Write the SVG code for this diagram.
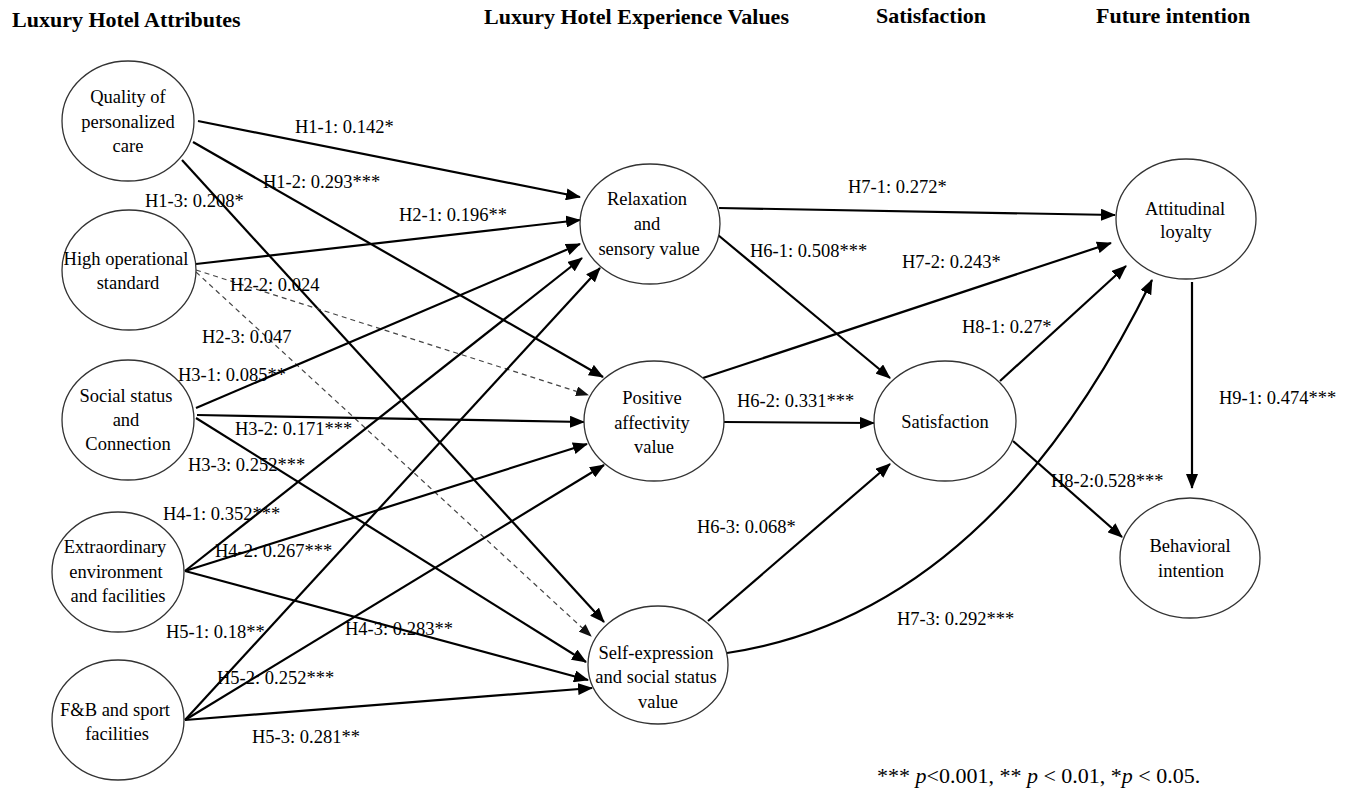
<svg xmlns="http://www.w3.org/2000/svg" width="1353" height="795" viewBox="0 0 1353 795">
<style>
.hdr{font-family:"Liberation Serif","Times New Roman",serif;font-size:22px;font-weight:bold;fill:#000}
.nt{font-family:"Liberation Serif","Times New Roman",serif;font-size:18.5px;fill:#000;text-anchor:middle}
.lb{font-family:"Liberation Serif","Times New Roman",serif;font-size:18.5px;fill:#000}
.fn{font-family:"Liberation Serif","Times New Roman",serif;font-size:22px;fill:#000}
.nd{fill:#fff;stroke:#333;stroke-width:1.3}
.e{fill:none;stroke:#000;stroke-width:2.2;marker-end:url(#ah)}
.d{fill:none;stroke:#444;stroke-width:1.2;stroke-dasharray:5,4;marker-end:url(#ahd)}
</style>
<defs>
<marker id="ah" markerUnits="userSpaceOnUse" markerWidth="15" markerHeight="12" refX="14" refY="6" orient="auto">
<path d="M0,0 L15,6 L0,12 z" fill="#000"/>
</marker>
<marker id="ahd" markerUnits="userSpaceOnUse" markerWidth="13" markerHeight="10" refX="12" refY="5" orient="auto">
<path d="M0,0 L13,5 L0,10 z" fill="#111"/>
</marker>
</defs>
<rect width="1353" height="795" fill="#fff"/>
<g id="headers">
<text class="hdr" x="12" y="27">Luxury Hotel Attributes</text>
<text class="hdr" x="484" y="24">Luxury Hotel Experience Values</text>
<text class="hdr" x="876" y="23">Satisfaction</text>
<text class="hdr" x="1096" y="23">Future intention</text>
</g>
<g id="connectors">
<line class="e" x1="198" y1="121" x2="580" y2="197"/>
<line class="e" x1="193" y1="142" x2="603" y2="377"/>
<line class="e" x1="182" y1="160" x2="604" y2="622"/>
<line class="e" x1="196" y1="264" x2="580" y2="220"/>
<line class="d" x1="196" y1="270" x2="588" y2="395"/>
<line class="d" x1="196" y1="272" x2="591" y2="636"/>
<line class="e" x1="196" y1="408" x2="580" y2="244"/>
<line class="e" x1="197" y1="415" x2="584" y2="422"/>
<line class="e" x1="196" y1="418" x2="586" y2="662"/>
<line class="e" x1="185" y1="571" x2="582" y2="258"/>
<line class="e" x1="185" y1="571" x2="587" y2="444"/>
<line class="e" x1="185" y1="571" x2="588" y2="680"/>
<line class="e" x1="185" y1="720" x2="600" y2="268"/>
<line class="e" x1="185" y1="720" x2="604" y2="465"/>
<line class="e" x1="185" y1="720" x2="592" y2="688"/>
<line class="e" x1="719" y1="208" x2="1115" y2="215"/>
<line class="e" x1="718" y1="235" x2="890" y2="378"/>
<line class="e" x1="703" y1="378" x2="1111" y2="243"/>
<line class="e" x1="724" y1="422" x2="874" y2="423"/>
<line class="e" x1="708" y1="621" x2="890" y2="464"/>
<path class="e" d="M727,653 Q988,614 1152,280"/>
<line class="e" x1="1000" y1="381" x2="1126" y2="266"/>
<line class="e" x1="1013" y1="441" x2="1122" y2="537"/>
<line class="e" x1="1192" y1="282" x2="1192" y2="488"/>
</g>
<g id="n-quality"><ellipse class="nd" cx="128" cy="121" rx="66" ry="60"/>
<text class="nt" x="128" y="103">Quality of</text><text class="nt" x="128" y="128">personalized</text><text class="nt" x="128" y="152">care</text></g>
<g id="n-operational"><ellipse class="nd" cx="129" cy="270" rx="67" ry="60"/>
<text class="nt" x="126" y="265">High operational</text><text class="nt" x="128" y="289">standard</text></g>
<g id="n-social"><ellipse class="nd" cx="128" cy="420" rx="66" ry="60"/>
<text class="nt" x="126" y="402">Social status</text><text class="nt" x="126" y="426">and</text><text class="nt" x="128" y="450">Connection</text></g>
<g id="n-environment"><ellipse class="nd" cx="118" cy="572" rx="66" ry="60"/>
<text class="nt" x="115" y="553">Extraordinary</text><text class="nt" x="116" y="578">environment</text><text class="nt" x="118" y="602">and facilities</text></g>
<g id="n-fb"><ellipse class="nd" cx="118" cy="720" rx="66" ry="60"/>
<text class="nt" x="115" y="716">F&amp;B and sport</text><text class="nt" x="117" y="740">facilities</text></g>
<g id="n-relaxation"><ellipse class="nd" cx="650" cy="224" rx="70" ry="60"/>
<text class="nt" x="647" y="205">Relaxation</text><text class="nt" x="647" y="230">and</text><text class="nt" x="649" y="255">sensory value</text></g>
<g id="n-positive"><ellipse class="nd" cx="654" cy="421" rx="70" ry="60"/>
<text class="nt" x="652" y="404">Positive</text><text class="nt" x="652" y="429">affectivity</text><text class="nt" x="654" y="453">value</text></g>
<g id="n-selfexpression"><ellipse class="nd" cx="658" cy="665" rx="70" ry="59"/>
<text class="nt" x="656" y="659">Self-expression</text><text class="nt" x="656" y="683">and social status</text><text class="nt" x="658" y="708">value</text></g>
<g id="n-satisfaction"><ellipse class="nd" cx="945" cy="421" rx="71" ry="60"/>
<text class="nt" x="945" y="428">Satisfaction</text></g>
<g id="n-attitudinal"><ellipse class="nd" cx="1186" cy="219" rx="70" ry="60"/>
<text class="nt" x="1185" y="215">Attitudinal</text><text class="nt" x="1186" y="238">loyalty</text></g>
<g id="n-behavioral"><ellipse class="nd" cx="1190" cy="558" rx="70" ry="60"/>
<text class="nt" x="1190" y="552">Behavioral</text><text class="nt" x="1191" y="577">intention</text></g>
<g id="edge-labels">
<text class="lb" x="295" y="133">H1-1: 0.142*</text>
<text class="lb" x="263" y="188">H1-2: 0.293***</text>
<text class="lb" x="145" y="207">H1-3: 0.208*</text>
<text class="lb" x="399" y="221">H2-1: 0.196**</text>
<text class="lb" x="230" y="291">H2-2: 0.024</text>
<text class="lb" x="202" y="343">H2-3: 0.047</text>
<text class="lb" x="178" y="381">H3-1: 0.085**</text>
<text class="lb" x="235" y="435">H3-2: 0.171***</text>
<text class="lb" x="188" y="471">H3-3: 0.252***</text>
<text class="lb" x="163" y="520">H4-1: 0.352***</text>
<text class="lb" x="215" y="557">H4-2: 0.267***</text>
<text class="lb" x="345" y="635">H4-3: 0.283**</text>
<text class="lb" x="166" y="638">H5-1: 0.18**</text>
<text class="lb" x="217" y="684">H5-2: 0.252***</text>
<text class="lb" x="252" y="743">H5-3: 0.281**</text>
<text class="lb" x="848" y="193">H7-1: 0.272*</text>
<text class="lb" x="750" y="257">H6-1: 0.508***</text>
<text class="lb" x="902" y="268">H7-2: 0.243*</text>
<text class="lb" x="737" y="407">H6-2: 0.331***</text>
<text class="lb" x="697" y="533">H6-3: 0.068*</text>
<text class="lb" x="897" y="625">H7-3: 0.292***</text>
<text class="lb" x="962" y="333">H8-1: 0.27*</text>
<text class="lb" x="1051" y="487">H8-2:0.528***</text>
<text class="lb" x="1219" y="404">H9-1: 0.474***</text>
</g>
<text class="fn" x="877" y="783">*** <tspan font-style="italic">p</tspan>&lt;0.001, ** <tspan font-style="italic">p</tspan> &lt; 0.01, *<tspan font-style="italic">p</tspan> &lt; 0.05.</text>
</svg>
